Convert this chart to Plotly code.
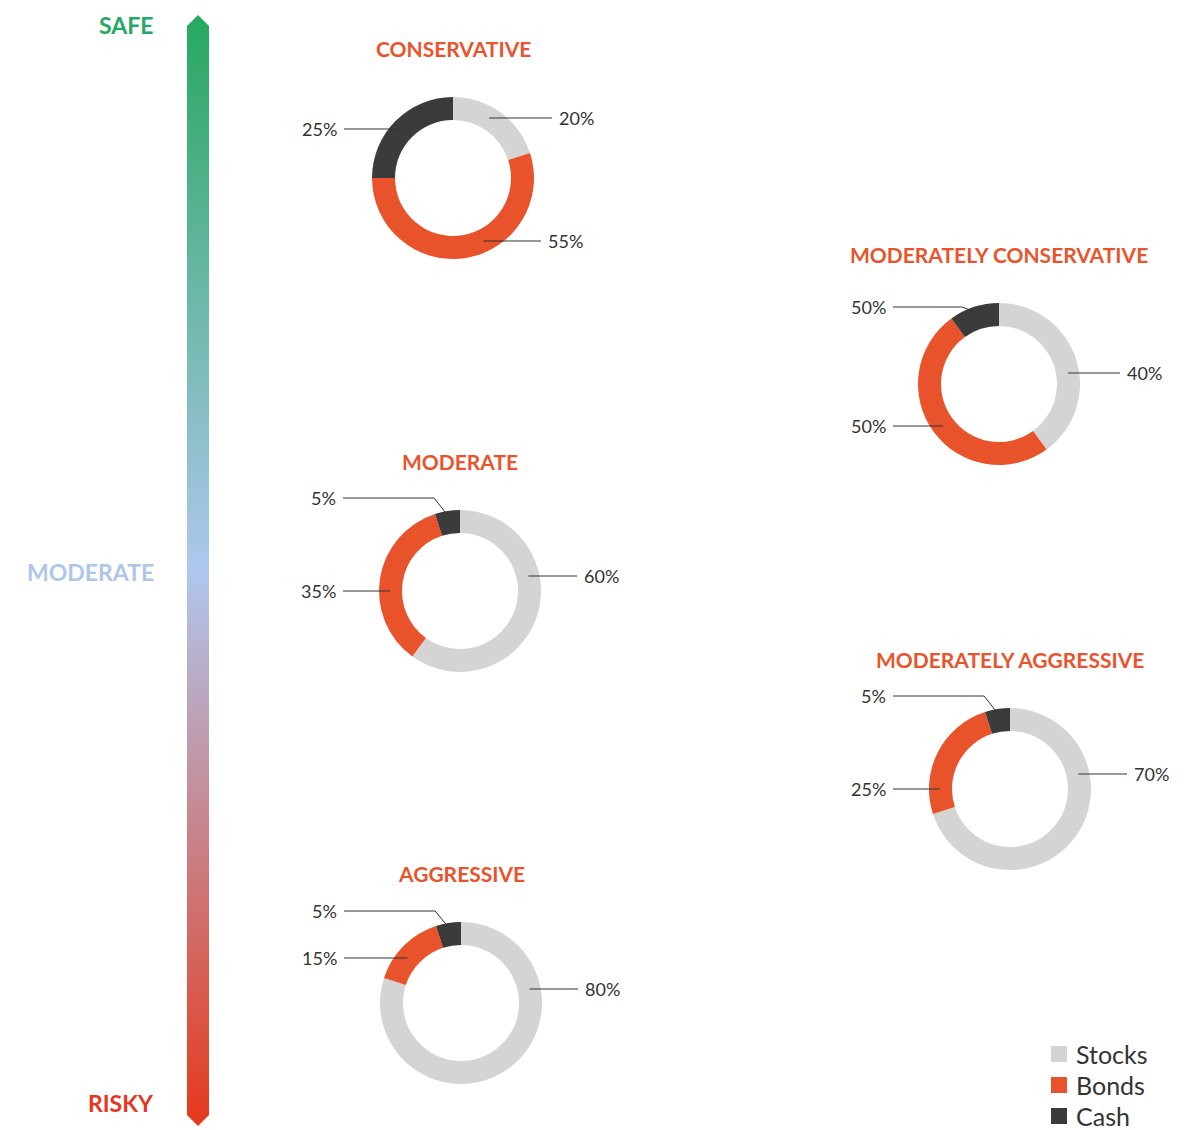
"""Risk profiles: asset mix donuts next to a safe -> risky gradient scale."""

import math

import plotly.graph_objects as go

W, H = 1195, 1130

ASSETS = ["Stocks", "Bonds", "Cash"]
ASSET_COLORS = ["#d3d4d3", "#e8532b", "#3b3b3b"]

PORTFOLIOS = [
    "CONSERVATIVE",
    "MODERATELY CONSERVATIVE",
    "MODERATE",
    "MODERATELY AGGRESSIVE",
    "AGGRESSIVE",
]
STOCKS = [20, 40, 60, 70, 80]
BONDS = [55, 50, 35, 25, 15]
CASH = [25, 10, 5, 5, 5]
# labels as printed in the source (the 10% cash slice is printed as 50%)
STOCK_LABELS = ["20%", "40%", "60%", "70%", "80%"]
BOND_LABELS = ["55%", "50%", "35%", "25%", "15%"]
CASH_LABELS = ["25%", "50%", "5%", "5%", "5%"]

RISK_LEVELS = ["SAFE", "MODERATE", "RISKY"]
RISK_COLORS = ["#27a862", "#aec6ea", "#e4371f"]

# ---- placement (pixels) ----
CENTERS = [(453, 178), (999, 384), (460, 591), (1010, 789), (461, 1003)]
R_OUT, R_IN = 81, 58
R_MID = 70
# (dx, dy) of each value label from the donut centre, stocks/bonds/cash
LABEL_POS = [
    [(104, -60), (93, 63), (-114, -49)],
    [(126, -11), (-111, 42), (-111, -77)],
    [(122, -15), (-122, 0), (-122, -93)],
    [(122, -15), (-122, 0), (-122, -93)],
    [(122, -14), (-122, -45), (-122, -92)],
]
RISK_Y = [25, 572, 1103]
LEGEND_X, LEGEND_Y, LEGEND_STEP = 1051, 1054, 31
ORANGE = "#e9542c"
INK = "#333333"
FONT = "Lato"


def paper_x(px):
    return px / W


def paper_y(py):
    return 1 - py / H


fig = go.Figure()

# gradient scale arrow
ax0, ax1, axm = 187, 209, 198
top, bot = 15, 1126
fig.add_trace(
    go.Scatter(
        x=[ax0, axm, ax1, ax1, axm, ax0, ax0],
        y=[top + 11, top, top + 11, bot - 11, bot, bot - 11, top + 11],
        mode="lines",
        line=dict(width=0),
        fill="toself",
        fillgradient=dict(
            type="vertical",
            colorscale=[[0, "#26a85f"], [0.5, "#aec7ee"], [1, "#e6381b"]],
            start=top,
            stop=bot,
        ),
        hoverinfo="skip",
        showlegend=False,
    )
)

annotations = []
shapes = []

for name, y, color in zip(RISK_LEVELS, RISK_Y, RISK_COLORS):
    annotations.append(dict(
        x=156, y=y, xref="x", yref="y", text=name, showarrow=False,
        xanchor="right", yanchor="middle",
        font=dict(family=FONT, size=23, color=color, weight="bold"),
    ))

for i, name in enumerate(PORTFOLIOS):
    cx, cy = CENTERS[i]
    values = [STOCKS[i], BONDS[i], CASH[i]]
    texts = [STOCK_LABELS[i], BOND_LABELS[i], CASH_LABELS[i]]
    fig.add_trace(
        go.Pie(
            values=values,
            labels=ASSETS,
            marker=dict(colors=ASSET_COLORS, line=dict(width=0)),
            hole=R_IN / R_OUT,
            sort=False,
            direction="clockwise",
            rotation=0,
            textinfo="none",
            hoverinfo="label+percent",
            domain=dict(
                x=[paper_x(cx - R_OUT), paper_x(cx + R_OUT)],
                y=[paper_y(cy + R_OUT), paper_y(cy - R_OUT)],
            ),
            showlegend=False,
        )
    )
    annotations.append(dict(
        x=cx, y=cy - 130, xref="x", yref="y", text=name, showarrow=False,
        xanchor="center", yanchor="middle",
        font=dict(family=FONT, size=21, color=ORANGE, weight="bold"),
    ))

    total = sum(values)
    start = 0.0
    for j, (val, txt) in enumerate(zip(values, texts)):
        mid = (start + val / 2) / total * 2 * math.pi  # clockwise from 12 o'clock
        start += val
        dx, dy = LABEL_POS[i][j]
        side = 1 if dx > 0 else -1
        lx, ly = cx + dx, cy + dy
        annotations.append(dict(
            x=lx, y=ly, xref="x", yref="y", text=txt, showarrow=False,
            xanchor="left" if side > 0 else "right", yanchor="middle",
            font=dict(family=FONT, size=18, color=INK),
        ))
        x_end = lx - side * 5
        if val / total < 0.12:
            # small slice: leader bends down into the slice
            px = cx + 76 * math.sin(mid)
            py = cy - 76 * math.cos(mid)
            ex = px + side * 14
            path = f"M{x_end},{ly} L{ex},{ly} L{px},{py}"
        else:
            px = cx + side * math.sqrt(max(R_MID ** 2 - dy ** 2, 0))
            path = f"M{x_end},{ly} L{px},{ly}"
        shapes.append(dict(
            type="path", path=path, xref="x", yref="y",
            line=dict(color=INK, width=1),
        ))

# legend: colour squares + asset names
for k, (asset, color) in enumerate(zip(ASSETS, ASSET_COLORS)):
    y = LEGEND_Y + k * LEGEND_STEP
    shapes.append(dict(
        type="rect", xref="x", yref="y",
        x0=LEGEND_X, x1=LEGEND_X + 16, y0=y - 8, y1=y + 8,
        fillcolor=color, line=dict(width=0),
    ))
    annotations.append(dict(
        x=LEGEND_X + 23, y=y, xref="x", yref="y", text=asset, showarrow=False,
        xanchor="left", yanchor="middle",
        font=dict(family=FONT, size=25, color=INK),
    ))

fig.update_layout(
    width=W,
    height=H,
    margin=dict(l=0, r=0, t=0, b=0),
    paper_bgcolor="white",
    plot_bgcolor="white",
    xaxis=dict(range=[0, W], visible=False, fixedrange=True, domain=[0, 1]),
    yaxis=dict(range=[H, 0], visible=False, fixedrange=True, domain=[0, 1]),
    annotations=annotations,
    shapes=shapes,
    showlegend=False,
)

fig.write_html(
    "out.html",
    config={"displayModeBar": False},
    post_script="document.body.style.margin = '0';",
)
